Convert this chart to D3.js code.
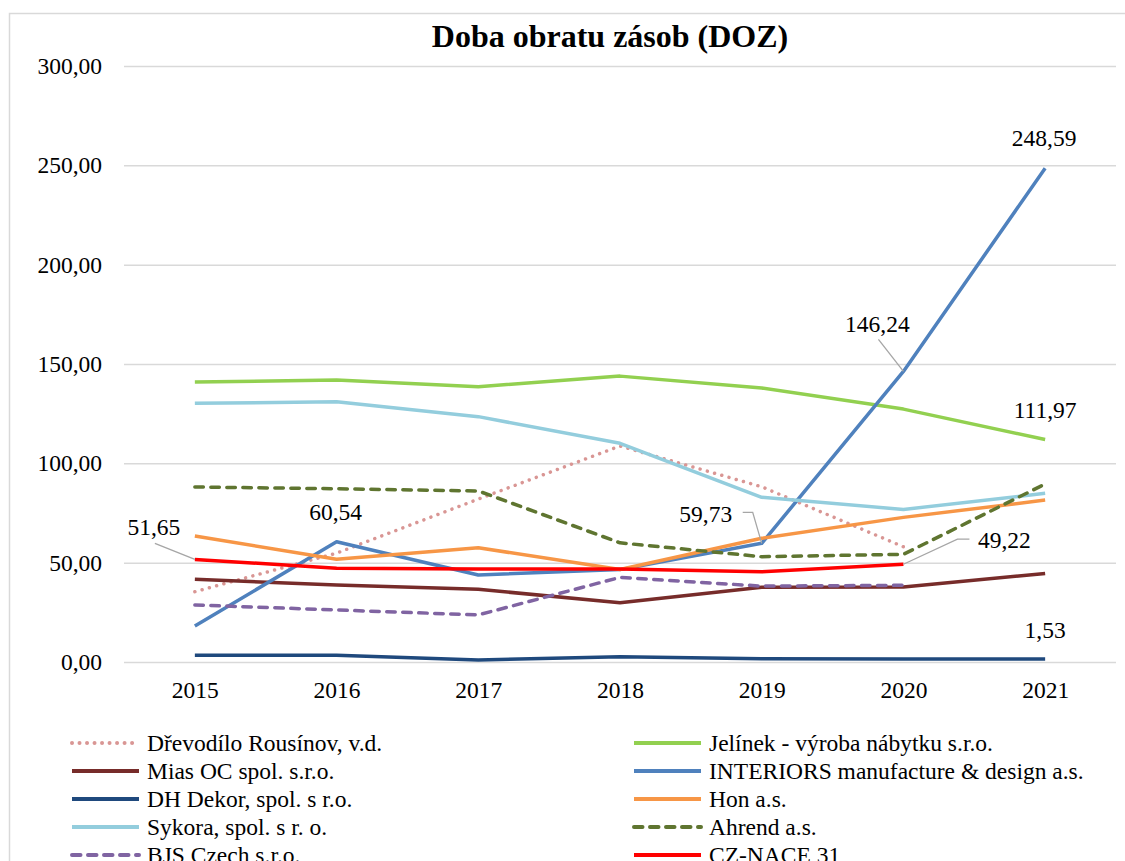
<!DOCTYPE html>
<html>
<head>
<meta charset="utf-8">
<script src="https://cdn.jsdelivr.net/npm/d3@7"></script>
<style>
    body { margin: 0; background: #fff; }
    svg text { font-family: "Liberation Serif", Tinos, "Times New Roman", Times, "DejaVu Serif", serif !important; fill: #000; }
    .grid line { stroke: #d9d9d9; stroke-width: 1.5; }
    .grid .domain { display: none; }
    .series-line { fill: none; stroke-width: 3.5; stroke-linejoin: round; }
    .leader { fill: none; stroke: #a6a6a6; stroke-width: 1.3; }
</style>
</head>
<body>
<div id="chart"></div>
<script>
// data
var years = ["2015", "2016", "2017", "2018", "2019", "2020", "2021"];
var yTicks = [0, 50, 100, 150, 200, 250, 300];

var drevodilo = [35.4, 54.8, 82.0, 108.7, 88.2, 58.0, null];
var jelinek = [140.9, 141.9, 138.6, 143.9, 137.9, 127.3, 111.97];
var miasOC = [41.6, 38.8, 36.6, 29.8, 37.6, 37.7, 44.6];
var interiors = [18.1, 60.54, 43.8, 46.5, 59.73, 146.24, 248.59];
var dhDekor = [3.4, 3.4, 1.0, 2.7, 1.6, 1.5, 1.53];
var hon = [63.4, 51.7, 57.5, 46.6, 62.3, 72.8, 81.5];
var sykora = [130.2, 131.0, 123.5, 110.1, 82.9, 76.8, 84.9];
var ahrend = [88.1, 87.2, 86.1, 60.0, 53.0, 54.2, 89.6];
var bjsCzech = [28.7, 26.2, 23.7, 42.6, 38.2, 38.6, null];
var czNace = [51.65, 47.2, 46.8, 46.8, 45.4, 49.22, null];

var seriesNames = ["Dřevodílo Rousínov, v.d.", "Jelínek - výroba nábytku s.r.o.", "Mias OC spol. s.r.o.",
    "INTERIORS manufacture & design a.s.", "DH Dekor, spol. s r.o.", "Hon a.s.", "Sykora, spol. s r. o.",
    "Ahrend a.s.", "BJS Czech s.r.o.", "CZ-NACE 31"];
var seriesValues = [drevodilo, jelinek, miasOC, interiors, dhDekor, hon, sykora, ahrend, bjsCzech, czNace];

// styles, same order as the series
var seriesColors = ["#d99694", "#92d050", "#772c2a", "#4f81bd", "#1f497d", "#f79646", "#93cddd",
    "#5f7530", "#8064a2", "#ff0000"];
var seriesDash = ["0.01 7.5", null, null, null, null, null, null, "8.5 7.5", "8.5 7.5", null];

// labelled points: series index, year index, label offset (dx, dy) and leader path offsets
var dataLabels = [
    {s: 9, i: 0, dx: -41, dy: -33, leader: [[-40, -16]]},
    {s: 3, i: 1, dx: -1, dy: -30},
    {s: 3, i: 4, dx: -56, dy: -30, leader: [[-19, -31], [-9, -31]]},
    {s: 3, i: 5, dx: -26, dy: -48, leader: [[-25, -32]]},
    {s: 9, i: 5, dx: 101, dy: -24, leader: [[66, -25], [54, -25]]},
    {s: 3, i: 6, dx: -1, dy: -30},
    {s: 1, i: 6, dx: 0, dy: -30},
    {s: 4, i: 6, dx: 0, dy: -29}
];

var fmt = function (v) {
    return v.toFixed(2).replace(".", ",");
};

var svg = d3.select("#chart")
    .append("svg")
    .attr("width", 1125)
    .attr("height", 861);

// chart frame
svg.append("rect")
    .attr("x", 9.5)
    .attr("y", 13.5)
    .attr("width", 1200)
    .attr("height", 1000)
    .attr("fill", "#fff")
    .attr("stroke", "#d9d9d9")
    .attr("stroke-width", 1.5);

var plot = {left: 124, right: 1116, top: 66, bottom: 662};

var x = d3.scalePoint()
    .domain(years)
    .range([plot.left, plot.right])
    .padding(0.5);

var y = d3.scaleLinear()
    .domain([0, 300])
    .range([plot.bottom, plot.top]);

// title
svg.append("text")
    .attr("x", 610)
    .attr("y", 47)
    .attr("text-anchor", "middle")
    .attr("font-size", 32)
    .attr("font-weight", "bold")
    .text("Doba obratu zásob (DOZ)");

// gridlines
svg.append("g")
    .attr("class", "grid")
    .attr("transform", "translate(" + plot.left + ",0)")
    .call(d3.axisLeft(y).tickValues(yTicks).tickSize(-(plot.right - plot.left)).tickFormat(""));

// y axis labels
svg.append("g")
    .attr("transform", "translate(" + plot.left + ",0)")
    .call(d3.axisLeft(y).tickValues(yTicks).tickSize(0).tickPadding(22).tickFormat(fmt))
    .call(function (g) { g.select(".domain").remove(); })
    .selectAll("text")
    .attr("font-size", 23.5)
    .attr("fill", "#000");

// x axis labels
svg.append("g")
    .attr("transform", "translate(0," + plot.bottom + ")")
    .call(d3.axisBottom(x).tickSize(0).tickPadding(19))
    .call(function (g) { g.select(".domain").remove(); })
    .selectAll("text")
    .attr("font-size", 23.5)
    .attr("fill", "#000");

// lines
var line = d3.line()
    .defined(function (d) { return d !== null; })
    .x(function (d, i) { return x(years[i]); })
    .y(function (d) { return y(d); });

seriesValues.forEach(function (values, s) {
    svg.append("path")
        .datum(values)
        .attr("class", "series-line")
        .attr("stroke", seriesColors[s])
        .attr("stroke-dasharray", seriesDash[s])
        .attr("stroke-linecap", seriesDash[s] ? "round" : "butt")
        .attr("d", line);
});

// data labels with leader lines
dataLabels.forEach(function (lb) {
    var v = seriesValues[lb.s][lb.i];
    var px = x(years[lb.i]), py = y(v);
    if (lb.leader) {
        var pts = lb.leader.map(function (p) { return [px + p[0], py + p[1]]; });
        pts.push([px, py]);
        svg.append("path")
            .attr("class", "leader")
            .attr("d", d3.line()(pts));
    }
    svg.append("text")
        .attr("x", px + lb.dx)
        .attr("y", py + lb.dy)
        .attr("dy", "0.35em")
        .attr("text-anchor", "middle")
        .attr("font-size", 23.5)
        .text(fmt(v));
});

// legend, two columns filled row by row
var legend = svg.append("g");
seriesNames.forEach(function (name, s) {
    var col = s % 2, row = Math.floor(s / 2);
    var lx = col === 0 ? 72 : 634, ly = 743 + row * 28;
    legend.append("line")
        .attr("x1", lx)
        .attr("x2", lx + 67)
        .attr("y1", ly)
        .attr("y2", ly)
        .attr("stroke", seriesColors[s])
        .attr("stroke-width", 4)
        .attr("stroke-dasharray", seriesDash[s])
        .attr("stroke-linecap", seriesDash[s] ? "round" : "butt");
    legend.append("text")
        .attr("x", lx + 75)
        .attr("y", ly)
        .attr("dy", "0.35em")
        .attr("font-size", 23.5)
        .text(name);
});
</script>
</body>
</html>
